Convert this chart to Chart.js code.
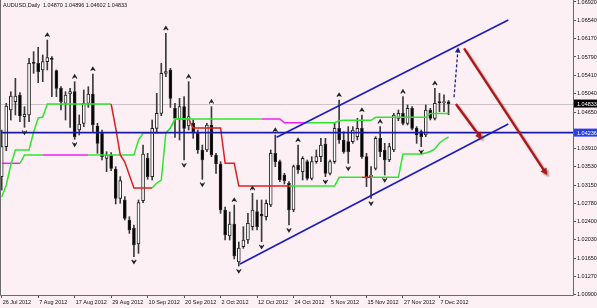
<!DOCTYPE html>
<html>
<head>
<meta charset="utf-8">
<script src="https://cdn.jsdelivr.net/npm/chart.js@4.4.0/dist/chart.umd.min.js"></script>
<style>
  html, body { margin: 0; padding: 0; background: #fdf0f4; }
  #wrap { width: 597px; height: 308px; }
</style>
</head>
<body>
<div id="wrap"><canvas id="audChart" width="597" height="308"></canvas></div>
<script>
// AUDUSD daily candles, bar 0 = 26 Jul 2012
const dateTicks = [0, 8, 16, 24, 32, 40, 48, 56, 64, 72, 80, 88, 96];
const dateLabels = ['26 Jul 2012', '7 Aug 2012', '17 Aug 2012', '29 Aug 2012', '10 Sep 2012', '20 Sep 2012',
    '2 Oct 2012', '12 Oct 2012', '24 Oct 2012', '5 Nov 2012', '15 Nov 2012', '27 Nov 2012', '7 Dec 2012'];
const priceTicks = [1.06920, 1.06540, 1.06170, 1.05790, 1.05410, 1.05040, 1.04650, 1.03910, 1.03530,
    1.03150, 1.02780, 1.02400, 1.02030, 1.01650, 1.01270, 1.00900];

const opens = [
    1.03330, 1.03947, 1.04701, 1.04872, 1.05009, 1.04564, 1.04598, 1.05680, 1.05660, 1.05523,
    1.05694, 1.05762, 1.05509, 1.05146, 1.04838, 1.05029, 1.05077, 1.04289, 1.04427, 1.04838,
    1.05029, 1.04372, 1.04221, 1.03707, 1.03776, 1.03488, 1.02885, 1.02851, 1.02440, 1.02269,
    1.01947, 1.02837, 1.03707, 1.03331, 1.04324, 1.04632, 1.05454, 1.05523, 1.04735, 1.04495,
    1.04769, 1.04372, 1.04427, 1.04221, 1.03879, 1.03879, 1.04392, 1.03776, 1.03591, 1.02646,
    1.02111, 1.02358, 1.01577, 1.01892, 1.02029, 1.02303, 1.02611, 1.02563, 1.02509, 1.02748,
    1.03810, 1.03639, 1.03365, 1.03194, 1.02646, 1.03570, 1.03433, 1.03639, 1.03296, 1.03639,
    1.03742, 1.04002, 1.03399, 1.03639, 1.04324, 1.04084, 1.04050, 1.04050, 1.04153, 1.04324,
    1.03742, 1.03331, 1.03502, 1.04119, 1.03879, 1.03673, 1.03879, 1.04530, 1.04632, 1.04427,
    1.04735, 1.04324, 1.04256, 1.04187, 1.04701, 1.04530, 1.04865, 1.04852, 1.04870
];
const highs = [
    1.04289, 1.04838, 1.05077, 1.05351, 1.05057, 1.04769, 1.05762, 1.05899, 1.05988, 1.05831,
    1.06139, 1.05797, 1.05523, 1.05180, 1.05077, 1.05146, 1.05283, 1.04598, 1.05112, 1.05180,
    1.05440, 1.04427, 1.04290, 1.03844, 1.03824, 1.03536, 1.03331, 1.02920, 1.02509, 1.02337,
    1.02851, 1.03981, 1.03810, 1.04495, 1.05043, 1.05660, 1.06276, 1.05557, 1.04838, 1.04940,
    1.04975, 1.05283, 1.04495, 1.04290, 1.03981, 1.04427, 1.04769, 1.03810, 1.03639, 1.02707,
    1.02604, 1.02748, 1.01988, 1.02303, 1.02577, 1.02988, 1.02851, 1.02851, 1.02851, 1.03879,
    1.04187, 1.03673, 1.03399, 1.03228, 1.03570, 1.03981, 1.03742, 1.03673, 1.03742, 1.03879,
    1.04118, 1.04118, 1.03673, 1.04427, 1.04906, 1.04255, 1.04359, 1.04359, 1.04530, 1.04598,
    1.03810, 1.03537, 1.04153, 1.04359, 1.04016, 1.04016, 1.04632, 1.04701, 1.04975, 1.04804,
    1.04770, 1.04359, 1.04290, 1.04804, 1.04735, 1.05146, 1.05044, 1.05010, 1.04896
];
const lows = [
    1.03056, 1.03865, 1.04495, 1.04598, 1.04461, 1.04344, 1.04461, 1.05454, 1.05262, 1.05283,
    1.05523, 1.04975, 1.04975, 1.04701, 1.04495, 1.04344, 1.04098, 1.04187, 1.04358, 1.04755,
    1.04255, 1.03810, 1.03673, 1.03433, 1.03454, 1.02769, 1.02783, 1.02440, 1.02166, 1.01687,
    1.01755, 1.02796, 1.03276, 1.03262, 1.04221, 1.04584, 1.05386, 1.04755, 1.04139, 1.04084,
    1.03673, 1.04290, 1.04118, 1.03810, 1.03276, 1.03844, 1.03742, 1.03399, 1.02577, 1.02029,
    1.02029, 1.01639, 1.01495, 1.01858, 1.01961, 1.02235, 1.02235, 1.01995, 1.02440, 1.02714,
    1.03536, 1.03228, 1.03180, 1.02337, 1.02611, 1.03399, 1.03262, 1.03262, 1.03262, 1.03605,
    1.03639, 1.03330, 1.03365, 1.03605, 1.04016, 1.03810, 1.03605, 1.04016, 1.04085, 1.03708,
    1.03126, 1.02886, 1.03468, 1.03742, 1.03365, 1.03639, 1.03845, 1.04482, 1.04393, 1.04393,
    1.04290, 1.04016, 1.03948, 1.04153, 1.04496, 1.04496, 1.04667, 1.04667, 1.04602
];
const closes = [
    1.03947, 1.04783, 1.04988, 1.04988, 1.04577, 1.04612, 1.05660, 1.05660, 1.05488, 1.05694,
    1.05776, 1.05742, 1.05146, 1.04872, 1.05009, 1.05077, 1.04153, 1.04413, 1.04838, 1.05029,
    1.04392, 1.04016, 1.03742, 1.03776, 1.03502, 1.02885, 1.03248, 1.02474, 1.02235, 1.01926,
    1.02796, 1.03796, 1.03331, 1.04324, 1.04632, 1.05454, 1.05488, 1.04940, 1.04529, 1.04769,
    1.04324, 1.04564, 1.04255, 1.03879, 1.03673, 1.04392, 1.03776, 1.03591, 1.02646, 1.02132,
    1.02358, 1.01700, 1.01865, 1.02029, 1.02372, 1.02646, 1.02303, 1.02522, 1.02783, 1.03810,
    1.03639, 1.03262, 1.03248, 1.02646, 1.03536, 1.03468, 1.03707, 1.03296, 1.03639, 1.03742,
    1.03981, 1.03399, 1.03639, 1.04324, 1.04084, 1.03844, 1.03845, 1.04290, 1.04324, 1.03742,
    1.03331, 1.03365, 1.04119, 1.03845, 1.03673, 1.03948, 1.04598, 1.04632, 1.04427, 1.04735,
    1.04324, 1.04187, 1.04153, 1.04701, 1.04530, 1.04838, 1.04852, 1.04872, 1.04833
];

// two-line trailing indicator, one value per bar
const upperTrail = [
    1.02913, 1.03159, 1.03570, 1.03879, 1.03879, 1.03879, 1.03879, 1.04249, 1.04536, 1.04557,
    1.04824, 1.04824, 1.04824, 1.04824, 1.04824, 1.04824, 1.04824, 1.04824, 1.04824, 1.04824,
    1.04824, 1.04824, 1.04824, 1.04824, 1.04824, 1.04331, 1.03776, 1.03632, 1.03365, 1.03098,
    1.03098, 1.03098, 1.03098, 1.03098, 1.03200, 1.03262, 1.04228, 1.04331, 1.04516, 1.04516,
    1.04516, 1.04516, 1.04516, 1.04516, 1.04516, 1.04516, 1.04516, 1.04516, 1.04516, 1.04516,
    1.04516, 1.04516, 1.04516, 1.04516, 1.04516, 1.04516, 1.04516, 1.04516, 1.04516, 1.04516,
    1.04516, 1.04516, 1.04440, 1.04440, 1.04440, 1.04440, 1.04440, 1.04440, 1.04440, 1.04440,
    1.04440, 1.04440, 1.04440, 1.04440, 1.04481, 1.04489, 1.04489, 1.04489, 1.04489, 1.04489,
    1.04489, 1.04489, 1.04551, 1.04551, 1.04551, 1.04551, 1.04551, 1.04551, 1.04551, 1.04551,
    1.04551, 1.04551, 1.04551, 1.04551, 1.04629, 1.04629, 1.04629, 1.04629, 1.04629
];
const lowerTrail = [
    1.03605, 1.03605, 1.03605, 1.03605, 1.03605, 1.03776, 1.03776, 1.03776, 1.03776, 1.03776,
    1.03776, 1.03776, 1.03776, 1.03776, 1.03776, 1.03776, 1.03776, 1.03776, 1.03776, 1.03776,
    1.03776, 1.03776, 1.03776, 1.03776, 1.03776, 1.03776, 1.03776, 1.03776, 1.03776, 1.03776,
    1.04084, 1.04228, 1.04228, 1.04228, 1.04228, 1.04228, 1.04228, 1.04331, 1.04516, 1.04516,
    1.04516, 1.04516, 1.04331, 1.04331, 1.04331, 1.04331, 1.04331, 1.04331, 1.04331, 1.03605,
    1.03605, 1.03605, 1.03139, 1.03139, 1.03139, 1.03139, 1.03139, 1.03139, 1.03139, 1.03139,
    1.03139, 1.03139, 1.03139, 1.03139, 1.03139, 1.03139, 1.03139, 1.03139, 1.03139, 1.03139,
    1.03139, 1.03139, 1.03139, 1.03139, 1.03318, 1.03318, 1.03318, 1.03318, 1.03318, 1.03318,
    1.03318, 1.03318, 1.03318, 1.03318, 1.03318, 1.03318, 1.03318, 1.03318, 1.03796, 1.03796,
    1.03796, 1.03796, 1.03796, 1.03817, 1.03848, 1.03899, 1.04022, 1.04094, 1.04146
];
// bar ranges where the trail lines change state
const upperRedRuns = [[25, 33]];
const upperMagentaRuns = [[58, 67]];
const lowerRedRuns = [[42, 63], [80, 81]];
const lowerMagentaRuns = [[1, 4], [10, 19]];

const upFractals = [10, 16, 20, 36, 41, 46, 51, 55, 60, 65, 74, 79, 83, 88, 95];
const downFractals = [5, 16, 29, 40, 44, 52, 57, 63, 71, 76, 81, 84, 92];

const bidPrice = 1.04833;
const levelPrice = 1.04236;
// drawn objects: [bar, price]
const channelLower = [[52.26, 1.01536], [111.1, 1.04413]];
const channelUpper = [[60.3, 1.04140], [111.1, 1.06550]];
const blueArrow = [[99.2, 1.04962], [100.1, 1.05989]];
const redArrowShort = [[99.6, 1.04824], [105.3, 1.04099]];
const redArrowLong = [[101.4, 1.05969], [119.6, 1.03365]];

const axisFont = { family: '"Liberation Sans", Arial, sans-serif', size: 5.5 };
const bg = '#fdf0f4';

function inRuns(runs, i) {
    return runs.some(r => i >= r[0] && i <= r[1]);
}
function trailColor(redRuns, magRuns) {
    return ctx => {
        const i = ctx.p1DataIndex;
        if (inRuns(redRuns, i)) return '#e02020';
        if (inRuns(magRuns, i)) return '#ee22ee';
        return '#2ee62e';
    };
}

function drawArrow(ctx, p1, p2, color, width, head, dash) {
    const ang = Math.atan2(p2.y - p1.y, p2.x - p1.x);
    ctx.strokeStyle = color;
    ctx.fillStyle = color;
    ctx.lineWidth = width;
    ctx.setLineDash(dash || []);
    ctx.beginPath();
    ctx.moveTo(p1.x, p1.y);
    ctx.lineTo(p2.x - Math.cos(ang) * head * 0.7, p2.y - Math.sin(ang) * head * 0.7);
    ctx.stroke();
    ctx.setLineDash([]);
    ctx.beginPath();
    ctx.moveTo(p2.x, p2.y);
    ctx.lineTo(p2.x - head * Math.cos(ang - 0.5), p2.y - head * Math.sin(ang - 0.5));
    ctx.lineTo(p2.x - head * Math.cos(ang + 0.5), p2.y - head * Math.sin(ang + 0.5));
    ctx.closePath();
    ctx.fill();
}

const mtPlugin = {
    id: 'mtPlugin',
    beforeDraw(chart) {
        const ctx = chart.ctx;
        ctx.save();
        ctx.fillStyle = bg;
        ctx.fillRect(0, 0, chart.width, chart.height);
        ctx.restore();
    },
    beforeDatasetsDraw(chart) {
        const { ctx, chartArea: a, scales: { y } } = chart;
        ctx.save();
        ctx.strokeStyle = '#cbc3c7';
        ctx.lineWidth = 1;
        const yb = Math.round(y.getPixelForValue(bidPrice)) + 0.5;
        ctx.beginPath();
        ctx.moveTo(a.left, yb);
        ctx.lineTo(a.right, yb);
        ctx.stroke();
        ctx.restore();
    },
    afterDatasetsDraw(chart) {
        const { ctx, chartArea: a, scales: { x, y } } = chart;
        const pt = p => ({ x: x.getPixelForValue(p[0]), y: y.getPixelForValue(p[1]) });
        ctx.save();
        ctx.beginPath();
        ctx.rect(a.left, a.top, a.right - a.left, a.bottom - a.top);
        ctx.clip();

        // horizontal level
        const yl = y.getPixelForValue(levelPrice);
        ctx.strokeStyle = '#1a1aa8';
        ctx.lineWidth = 1.6;
        ctx.beginPath();
        ctx.moveTo(a.left, yl);
        ctx.lineTo(a.right, yl);
        ctx.stroke();

        // fractal marks
        ctx.strokeStyle = '#222';
        ctx.lineWidth = 1.1;
        upFractals.forEach(i => {
            const cx = x.getPixelForValue(i);
            const cy = y.getPixelForValue(highs[i]) - 5;
            ctx.beginPath();
            ctx.moveTo(cx - 2.2, cy + 1.8);
            ctx.lineTo(cx, cy - 1.8);
            ctx.lineTo(cx + 2.2, cy + 1.8);
            ctx.moveTo(cx, cy - 1.2);
            ctx.lineTo(cx, cy + 1.2);
            ctx.stroke();
        });
        downFractals.forEach(i => {
            const cx = x.getPixelForValue(i);
            const cy = y.getPixelForValue(lows[i]) + 5;
            ctx.beginPath();
            ctx.moveTo(cx - 2.2, cy - 1.8);
            ctx.lineTo(cx, cy + 1.8);
            ctx.lineTo(cx + 2.2, cy - 1.8);
            ctx.moveTo(cx, cy - 1.2);
            ctx.lineTo(cx, cy + 1.2);
            ctx.stroke();
        });

        // arrows
        drawArrow(ctx, pt(blueArrow[0]), pt(blueArrow[1]), '#20208a', 1.3, 6, [3, 2]);
        ctx.shadowColor = 'rgba(60,40,40,0.45)';
        ctx.shadowOffsetX = 2;
        ctx.shadowOffsetY = 2;
        ctx.shadowBlur = 2;
        drawArrow(ctx, pt(redArrowShort[0]), pt(redArrowShort[1]), '#b01616', 2.3, 7.5);
        drawArrow(ctx, pt(redArrowLong[0]), pt(redArrowLong[1]), '#b01616', 2.3, 7.5);
        ctx.restore();
    },
    afterDraw(chart) {
        const { ctx, chartArea: a, scales: { y } } = chart;
        ctx.save();
        // frame
        ctx.strokeStyle = '#6a6a6a';
        ctx.lineWidth = 1;
        ctx.beginPath();
        ctx.moveTo(a.left + 0.5, a.top);
        ctx.lineTo(a.left + 0.5, a.bottom + 0.5);
        ctx.lineTo(a.right + 0.5, a.bottom + 0.5);
        ctx.lineTo(a.right + 0.5, a.top);
        ctx.stroke();

        // title with last bar OHLC
        const n = closes.length - 1;
        ctx.font = '5.5px "Liberation Sans", Arial, sans-serif';
        ctx.fillStyle = '#111';
        ctx.textBaseline = 'middle';
        ctx.textAlign = 'left';
        ctx.fillText('AUDUSD,Daily  ' + [opens[n], highs[n], lows[n], closes[n]].map(v => v.toFixed(5)).join(' '), 3, 5);

        // price tags on the axis
        [[bidPrice, '#000000'], [levelPrice, '#2a3fe0']].forEach(([v, c]) => {
            const yy = y.getPixelForValue(v);
            ctx.fillStyle = c;
            ctx.fillRect(a.right + 1, yy - 4, chart.width - a.right - 1, 8);
            ctx.fillStyle = '#fff';
            ctx.fillText(v.toFixed(5), a.right + 4, yy + 0.5);
        });
        ctx.restore();
    }
};

const ctx = document.getElementById('audChart');
new Chart(ctx, {
    type: 'bar',
    data: {
        datasets: [
            {
                type: 'line',
                data: channelUpper.map(p => ({ x: p[0], y: p[1] })),
                borderColor: '#1c1cc0',
                borderWidth: 1.7,
                pointRadius: 0,
                order: 0
            },
            {
                type: 'line',
                data: channelLower.map(p => ({ x: p[0], y: p[1] })),
                borderColor: '#1c1cc0',
                borderWidth: 1.7,
                pointRadius: 0,
                order: 0
            },
            {
                type: 'line',
                data: upperTrail.map((v, i) => ({ x: i, y: v })),
                borderColor: '#2ee62e',
                borderWidth: 1.5,
                pointRadius: 0,
                segment: { borderColor: trailColor(upperRedRuns, upperMagentaRuns) },
                order: 1
            },
            {
                type: 'line',
                data: lowerTrail.map((v, i) => ({ x: i, y: v })),
                borderColor: '#2ee62e',
                borderWidth: 1.5,
                pointRadius: 0,
                segment: { borderColor: trailColor(lowerRedRuns, lowerMagentaRuns) },
                order: 1
            },
            {
                data: opens.map((o, i) => ({ x: i, y: [o, closes[i]] })),
                barThickness: 3,
                minBarLength: 1,
                grouped: false,
                borderSkipped: false,
                borderWidth: 1,
                borderColor: '#262626',
                backgroundColor: c => closes[c.dataIndex] >= opens[c.dataIndex] ? '#ffffff' : '#000000',
                order: 2
            },
            {
                data: lows.map((l, i) => ({ x: i, y: [l, highs[i]] })),
                barThickness: 1,
                grouped: false,
                backgroundColor: '#3a3a3a',
                order: 3
            }
        ]
    },
    options: {
        responsive: false,
        devicePixelRatio: 1,
        animation: false,
        events: [],
        layout: { padding: 0 },
        plugins: {
            legend: { display: false },
            tooltip: { enabled: false }
        },
        scales: {
            x: {
                type: 'linear',
                min: -0.373,
                max: 125.29,
                offset: false,
                bounds: 'data',
                afterBuildTicks: s => { s.ticks = dateTicks.map(v => ({ value: v })); },
                afterFit: s => {
                    s.height = 13;
                    s.paddingLeft = 0; s.paddingRight = 0; s.paddingTop = 0; s.paddingBottom = 0;
                },
                ticks: {
                    autoSkip: false,
                    maxRotation: 0,
                    minRotation: 0,
                    align: 'start',
                    padding: 1,
                    labelOffset: 1,
                    color: '#111',
                    font: axisFont,
                    callback: (v, i) => dateLabels[i]
                },
                grid: { drawOnChartArea: false, drawTicks: true, tickLength: 3, color: '#555', offset: false },
                border: { display: false }
            },
            y: {
                type: 'linear',
                position: 'right',
                min: 1.00899,
                max: 1.06961,
                bounds: 'data',
                afterBuildTicks: s => { s.ticks = priceTicks.map(v => ({ value: v })); },
                afterFit: s => {
                    s.width = 24;
                    s.paddingLeft = 0; s.paddingRight = 0; s.paddingTop = 0; s.paddingBottom = 0;
                },
                ticks: {
                    autoSkip: false,
                    padding: 1,
                    color: '#111',
                    font: axisFont,
                    callback: v => v.toFixed(5)
                },
                grid: { drawOnChartArea: false, drawTicks: true, tickLength: 3, color: '#555' },
                border: { display: false }
            }
        }
    },
    plugins: [mtPlugin]
});
</script>
</body>
</html>
